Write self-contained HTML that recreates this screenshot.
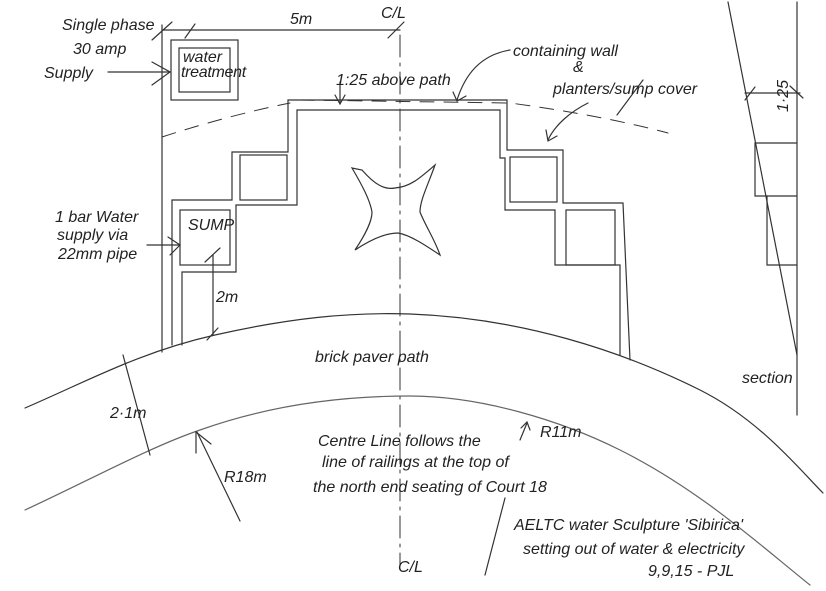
<!DOCTYPE html>
<html><head><meta charset="utf-8"><style>
html,body{margin:0;padding:0;background:#fff;}
svg{display:block}
text{font-family:"Liberation Sans",sans-serif;font-style:italic;fill:#222;font-size:16px;}
</style></head><body>
<svg width="826" height="591" viewBox="0 0 826 591" xmlns="http://www.w3.org/2000/svg">
<g fill="none" stroke="#333" stroke-width="1.2" stroke-linecap="round">
<line x1="162" y1="25" x2="162" y2="352"/>
<line x1="162" y1="30" x2="400" y2="30"/>
<line x1="152" y1="40" x2="172" y2="22"/>
<line x1="185" y1="38" x2="195" y2="24"/>
<line x1="388" y1="38" x2="404" y2="22"/>
<rect x="171" y="40" width="67" height="60"/>
<rect x="179" y="48" width="51" height="44"/>
<line x1="400" y1="35" x2="400" y2="565" stroke-dasharray="22,6,3,6" stroke-width="1"/>
<polyline points="172,345 172,200 232,200 232,152 288,152 288,100 507,100 507,150 563,150 563,203 623,203 630,360"/>
<polyline points="182,345 182,272 236,272 236,205 240,205 297,205 297,110 500,110 500,158 505,158 505,210 555,210 555,265 620,265 620,355"/>
<rect x="240" y="155" width="47" height="45"/>
<rect x="180" y="210" width="50" height="55"/>
<rect x="510" y="157" width="47" height="45"/>
<rect x="566" y="210" width="49" height="55"/>
<path d="M162,137 Q230,115 290,103 M300,100 L510,103 Q600,115 668,133" stroke-dasharray="14,10" stroke-width="1"/>
<path d="M25,408 C90,380 140,352 215,335 C290,318 350,312 410,314 C520,318 620,350 700,390 C760,420 800,470 823,493"/>
<path d="M25,510 C90,480 150,447 200,430 C270,405 340,396 410,396 C480,396 560,420 620,450 C700,490 760,545 810,585" stroke="#666"/>
<line x1="213" y1="255" x2="213" y2="335"/>
<line x1="205" y1="262" x2="220" y2="248"/>
<line x1="207" y1="340" x2="218" y2="328"/>
<line x1="123" y1="355" x2="150" y2="455"/>
<line x1="240" y1="521" x2="197" y2="432"/>
<polyline points="196,453 196,432 211,444"/>
<line x1="520" y1="440" x2="527" y2="423"/>
<polyline points="521,428 527,422 530,430"/>
<line x1="108" y1="72" x2="170" y2="72"/><polyline points="152,62 170,72 152,85"/>
<line x1="147" y1="245" x2="180" y2="245"/><polyline points="168,237 180,245 170,255"/>
<line x1="340" y1="82" x2="340" y2="103"/><polyline points="335,95 340,104 345,95"/>
<path d="M510,50 C480,55 465,75 457,100"/><polyline points="453,92 457,101 466,96"/>
<path d="M588,103 C570,112 555,125 548,140"/><polyline points="546,130 548,141 557,136"/>
<line x1="617" y1="115" x2="643" y2="80"/>
<line x1="797" y1="2" x2="797" y2="415"/>
<line x1="728" y1="2" x2="797" y2="355"/>
<line x1="745" y1="93" x2="800" y2="93"/>
<line x1="745" y1="100" x2="755" y2="87"/>
<line x1="790" y1="86" x2="803" y2="98"/>
<polyline points="797,143 755,143 755,196 797,196"/>
<polyline points="767,196 767,265 797,265"/>
<line x1="505" y1="498" x2="485" y2="575"/>
<path d="M362,170 C375,185 385,190 395,188 C410,187 420,178 435,165 C428,185 420,200 420,212 C425,225 435,240 440,255 C425,245 410,235 398,233 C385,233 370,240 355,250 C365,235 372,222 372,212 C370,200 362,185 352,168 Z"/>
</g>
<g>
<text x="62" y="30">Single phase</text>
<text x="73" y="54" font-size="17">30 amp</text>
<text x="44" y="78" font-size="17">Supply</text>
<text x="183" y="62" font-size="11">water</text>
<text x="181" y="77" font-size="10" letter-spacing="-0.3">treatment</text>
<text x="290" y="24" font-size="14">5m</text>
<text x="381" y="18" font-size="13">C/L</text>
<text x="336" y="85" font-size="13">1:25 above path</text>
<text x="513" y="56" font-size="15">containing wall</text>
<text x="573" y="72" font-size="12">&amp;</text>
<text x="553" y="94" font-size="15">planters/sump cover</text>
<text x="55" y="222" font-size="15">1 bar Water</text>
<text x="57" y="240" font-size="15">supply via</text>
<text x="58" y="259" font-size="15">22mm pipe</text>
<text x="188" y="230" font-size="12" font-style="normal">SUMP</text>
<text x="216" y="302" font-size="13">2m</text>
<text x="315" y="362" font-size="16">brick paver path</text>
<text x="110" y="418" font-size="14">2·1m</text>
<text x="224" y="482" font-size="14">R18m</text>
<text x="318" y="446" font-size="15">Centre Line follows the</text>
<text x="322" y="467" font-size="15">line of railings at the top of</text>
<text x="313" y="492" font-size="15">the north end seating of Court 18</text>
<text x="540" y="437" font-size="12">R11m</text>
<text x="398" y="572" font-size="13">C/L</text>
<text x="514" y="530" font-size="17">AELTC water Sculpture 'Sibirica'</text>
<text x="523" y="554" font-size="16">setting out of water &amp; electricity</text>
<text x="648" y="576" font-size="16">9,9,15 - PJL</text>
<text x="742" y="383" font-size="15">section</text>
<text x="0" y="0" font-size="11" transform="translate(788,112) rotate(-90)">1·25</text>
</g>
</svg>
</body></html>
